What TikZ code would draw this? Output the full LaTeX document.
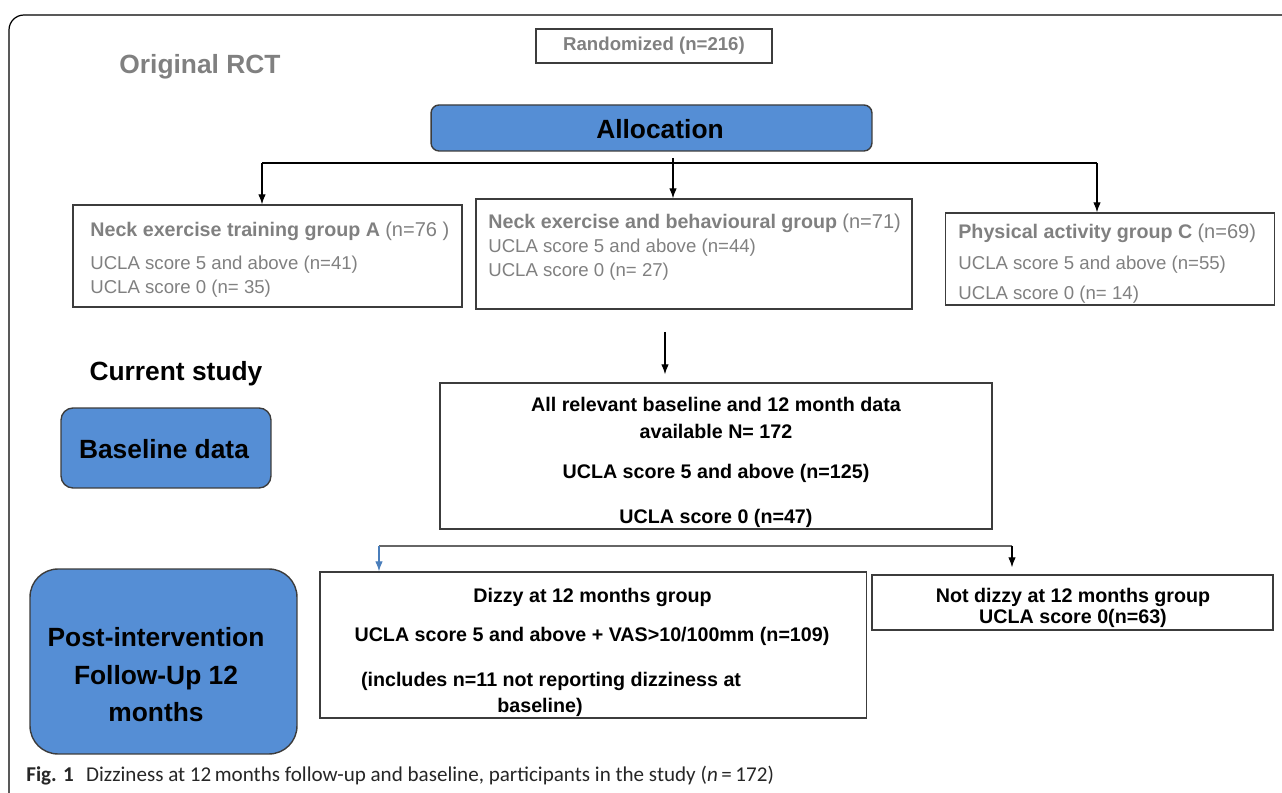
\documentclass[tikz,border=0pt]{standalone}
\usepackage{fontspec}
\usetikzlibrary{arrows.meta}
\setmainfont{Liberation Sans}
\newfontfamily\capfont{Carlito}
\definecolor{rctgray}{RGB}{128,128,128}
\definecolor{rctblue}{RGB}{85,142,213}
\definecolor{rctline}{RGB}{60,60,60}
\definecolor{arrblue}{RGB}{74,126,187}
\begin{document}
\begin{tikzpicture}[x=0.02cm,y=-0.02cm,
  box/.style={draw=rctline,line width=0.8pt,inner sep=0pt},
  bluebox/.style={box,fill=rctblue},
  head/.style={font=\fontsize{15}{21.3}\selectfont\bfseries,inner sep=0pt},
  txt/.style={font=\fontsize{11.2}{13}\selectfont\bfseries,inner sep=0pt,anchor=base},
  gtxt/.style={font=\fontsize{10.6}{13}\selectfont,text=rctgray,inner sep=0pt,anchor=base west},
  arr/.style={draw,line width=0.6pt,->,>={Latex[length=0.2cm,width=0.15cm]}}]

\useasboundingbox (0,0) rectangle (1282,793);
\draw[line width=0.7pt,rounded corners=0.3cm] (9,793) -- (9,15) -- (1282,15);

% original trial
\node[head,text=rctgray,anchor=base] (rct) at (200,73.5) {Original RCT};
\node[box,minimum width=4.72cm,minimum height=0.68cm,text=rctgray,
  font=\fontsize{10.6}{12}\selectfont\bfseries] (rand) at (654,46) {Randomized (n=216)};
\node[bluebox,rounded corners=0.16cm,minimum width=8.82cm,minimum height=0.92cm] (alloc) at (651.5,128) {};
\node[head,anchor=base] (allocT) at (660,138.5) {Allocation};

\node[box,minimum width=7.78cm,minimum height=2.04cm] (grpA) at (267.5,256) {};
\node[box,minimum width=8.72cm,minimum height=2.2cm] (grpB) at (694,254) {};
\node[box,minimum width=6.58cm,minimum height=1.84cm] (grpC) at (1110,259) {};

\node[gtxt] (grpA1) at (90,237) {{\fontsize{11.2}{13}\selectfont\bfseries Neck exercise training group A} {\fontsize{11.4}{13}\selectfont(n=76 )}};
\node[gtxt] (grpA2) at (90,270) {UCLA score 5 and above (n=41)};
\node[gtxt] (grpA3) at (90,294) {UCLA score 0 (n= 35)};
\node[gtxt] (grpB1) at (488,229) {{\fontsize{11.2}{13}\selectfont\bfseries Neck exercise and behavioural group} {\fontsize{11.4}{13}\selectfont(n=71)}};
\node[gtxt] (grpB2) at (488,253) {UCLA score 5 and above (n=44)};
\node[gtxt] (grpB3) at (488,277) {UCLA score 0 (n= 27)};
\node[gtxt] (grpC1) at (958,239) {{\fontsize{11.2}{13}\selectfont\bfseries Physical activity group C} {\fontsize{11.4}{13}\selectfont(n=69)}};
\node[gtxt] (grpC2) at (958,270) {UCLA score 5 and above (n=55)};
\node[gtxt] (grpC3) at (958,300) {UCLA score 0 (n= 14)};

\coordinate (brL) at (262,163);
\coordinate (brM) at (673,158);
\coordinate (brR) at (1097,163);
\draw[line width=0.6pt] (brL) -- (brR);
\path[arr] (brL) -- (brL |- grpA.north);
\path[arr] (brM) -- (brM |- grpB.north);
\path[arr] (brR) -- (brR |- grpC.north);

% current study
\node[head,anchor=base] (cur) at (176,381) {Current study};
\node[bluebox,rounded corners=0.24cm,minimum width=4.2cm,minimum height=1.6cm] (base) at (166,448) {};
\node[head,anchor=base] (baseT) at (164,458.5) {Baseline data};
\node[bluebox,rounded corners=0.56cm,minimum width=5.34cm,minimum height=3.7cm] (post) at (163.5,661.5) {};
\node[head,align=center] (postT) at (156,675) {Post-intervention\\Follow-Up 12\\months};

\node[box,minimum width=11.04cm,minimum height=2.92cm] (rel) at (716,456) {};
\node[txt] (rel1) at (716,412) {All relevant baseline and 12 month data};
\node[txt] (rel2) at (716,439) {available N= 172};
\node[txt] (rel3) at (716,479) {UCLA score 5 and above (n=125)};
\node[txt] (rel4) at (716,524) {UCLA score 0 (n=47)};

\coordinate (relTop) at (665,332);
\path[arr,shorten >=0.16cm] (relTop) -- (relTop |- rel.north);

\node[box,minimum width=10.93cm,minimum height=2.92cm] (dizzy) at (593,645) {};
\node[txt] (dz1) at (592.5,603) {Dizzy at 12 months group};
\node[txt] (dz2) at (592,642) {UCLA score 5 and above + VAS>10/100mm (n=109)};
\node[txt] (dz3) at (551,686) {(includes n=11 not reporting dizziness at};
\node[txt] (dz4) at (540,713) {baseline)};

\node[box,minimum width=8.02cm,minimum height=1.1cm] (notdz) at (1072.5,602.5) {};
\node[txt] (nd1) at (1073,603) {Not dizzy at 12 months group};
\node[txt] (nd2) at (1073,624) {UCLA score 0(n=63)};

\coordinate (dzL) at (379,546);
\coordinate (dzR) at (1012,546);
\draw[line width=0.7pt,draw=black!60] (dzL) -- (dzR);
\path[arr,draw=arrblue,fill=arrblue] (dzL) -- (dzL |- dizzy.north);
\path[arr,shorten >=0.14cm] (dzR) -- (dzR |- notdz.north);

% caption
\node[anchor=base west,inner sep=0pt,font=\capfont\fontsize{12}{14}\selectfont,text=black!85] (cap) at (26,782)
  {\textbf{Fig. 1}\hspace{7pt}Dizziness at 12\,months follow-up and baseline, participants in the study (\textit{n}\,=\,172)};
\end{tikzpicture}
\end{document}
